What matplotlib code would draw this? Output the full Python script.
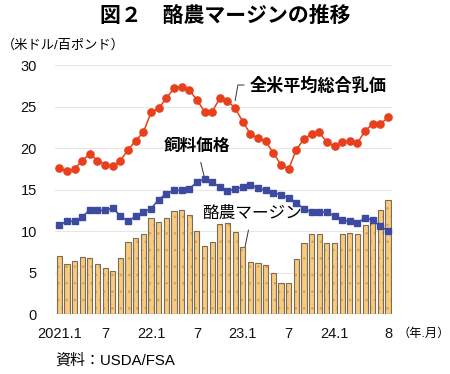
import matplotlib
matplotlib.use("Agg")
import matplotlib.pyplot as plt
import numpy as np

plt.rcParams['font.family'] = ['Liberation Sans', 'Noto Sans CJK JP', 'DejaVu Sans']
plt.rcParams['hatch.linewidth'] = 0.6

# monthly data, 2021.1 - 2024.8 (USD / cwt)
milk_price = [17.6, 17.2, 17.5, 18.5, 19.3, 18.5, 18.0, 17.8, 18.5, 19.8, 20.9, 21.9,
              24.3, 24.8, 26.0, 27.2, 27.4, 27.0, 25.8, 24.4, 24.4, 26.0, 25.7, 24.8,
              23.2, 21.7, 21.2, 20.8, 19.4, 18.0, 17.5, 19.8, 21.1, 21.7, 21.9, 20.7,
              20.2, 20.7, 20.8, 20.6, 22.1, 22.9, 22.9, 23.7]
feed_price = [10.7, 11.2, 11.2, 11.7, 12.6, 12.5, 12.5, 12.8, 11.8, 11.2, 11.8, 12.3,
              12.7, 13.8, 14.5, 14.9, 14.9, 15.1, 15.9, 16.3, 15.9, 15.3, 14.8, 15.1,
              15.3, 15.6, 15.2, 14.9, 14.6, 14.4, 14.0, 13.4, 12.7, 12.3, 12.3, 12.3,
              11.8, 11.3, 11.2, 11.0, 11.6, 11.3, 10.6, 10.0]
margin = [7.0, 6.1, 6.4, 6.9, 6.8, 6.1, 5.6, 5.2, 6.8, 8.7, 9.2, 9.7,
          11.6, 11.1, 11.6, 12.4, 12.6, 12.0, 10.0, 8.2, 8.7, 10.8, 11.0, 9.9,
          8.1, 6.3, 6.2, 5.9, 4.9, 3.8, 3.7, 6.6, 8.6, 9.6, 9.7, 8.6,
          8.6, 9.6, 9.8, 9.7, 10.7, 11.0, 12.5, 13.8]
tick_pos = [0, 6, 12, 18, 24, 30, 36, 43]
tick_labels = ['2021.1', '7', '22.1', '7', '23.1', '7', '24.1', '8']
y_ticks = [0, 5, 10, 15, 20, 25, 30]

x = np.arange(len(milk_price))

fig = plt.figure(figsize=(4.5, 3.74), dpi=100)
ax = fig.add_axes([0.122, 0.160, 0.750, 0.666])

ax.bar(x, margin, width=0.68, color='#F6CB80', edgecolor='#D9A450',
       hatch='..', linewidth=0, zorder=2)
ax.bar(x, margin, width=0.68, fill=False, edgecolor='#7C6C55',
       linewidth=0.8, zorder=3)
ax.plot(x, feed_price, color='#3C4AA0', marker='s', markersize=4.8,
        linewidth=1.1, zorder=4)
ax.plot(x, milk_price, color='#E8401C', marker='o', markersize=5.2,
        linewidth=1.1, zorder=5)

ax.set_xlim(-0.57, 43.57)
ax.set_ylim(0, 30)
ax.set_yticks(y_ticks)
ax.set_xticks(tick_pos)
ax.set_xticklabels(tick_labels)
ax.tick_params(axis='both', length=0, labelsize=10.5, colors='#111111')
ax.tick_params(axis='y', pad=13)
ax.tick_params(axis='x', pad=9)
for s in ax.spines.values():
    s.set_visible(False)
ax.grid(axis='y', color='#E6E6E6', linewidth=0.8, zorder=0)
ax.set_axisbelow(True)

# annotations
ax.annotate('全米平均総合乳価', xy=(23.0, 25.7), xytext=(24.9, 27.6),
            fontsize=12.3, fontweight='bold', va='center', ha='left',
            arrowprops=dict(arrowstyle='-', color='#333333', lw=0.7,
                            connectionstyle='angle,angleA=0,angleB=80,rad=0',
                            shrinkA=2, shrinkB=0))
ax.annotate('飼料価格', xy=(19.0, 16.4), xytext=(18.0, 20.2),
            fontsize=12, fontweight='bold', va='center', ha='center',
            arrowprops=dict(arrowstyle='-', color='#333333', lw=0.7,
                            shrinkA=4, shrinkB=0))
ax.annotate('酪農マージン', xy=(24.3, 8.1), xytext=(25.2, 12.2),
            fontsize=12, va='center', ha='center',
            arrowprops=dict(arrowstyle='-', color='#333333', lw=0.7,
                            shrinkA=5, shrinkB=0))

fig.text(0.5, 0.96, '図２　酪農マージンの推移', ha='center', va='center',
         fontsize=15, fontweight='bold', family=['Noto Sans CJK JP'])
fig.text(0.005, 0.878, '（米ドル/百ポンド）', ha='left', va='center', fontsize=9.5)
fig.text(0.884, 0.108, '（年.月）', ha='left', va='center', fontsize=8.8)
fig.text(0.123, 0.037, '資料：USDA/FSA', ha='left', va='center', fontsize=10.8)

fig.savefig('out.png', dpi=100)
